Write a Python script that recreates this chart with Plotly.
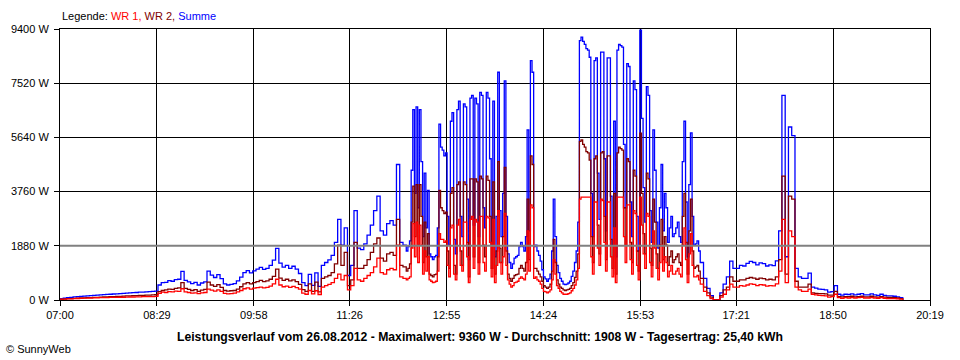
import plotly.graph_objects as go

# ---------------- data ----------------
x_tick_labels = ["07:00", "08:29", "09:58", "11:26", "12:55", "14:24", "15:53", "17:21", "18:50", "20:19"]
y_tick_values = [0, 1880, 3760, 5640, 7520, 9400]
y_tick_labels = ["0 W", "1880 W", "3760 W", "5640 W", "7520 W", "9400 W"]

# Samples: segment A 07:00-12:15 every 3 min, segment B 12:18-16:48 every 1.5 min,
# segment C 16:51-19:54 every 3 min (minutes after 07:00)
seg_a_start, seg_a_step = 0, 3
seg_b_start, seg_b_step = 318, 1.5
seg_c_start, seg_c_step = 591, 3

wr1_a = [
    30, 32, 40, 42, 50, 52, 58, 62, 66, 70, 72, 78, 80, 80, 85, 88, 88, 92, 96, 96,
    100, 104, 104, 108, 110, 114, 114, 118, 120, 124,
    230, 270, 260, 290, 280, 310, 300, 390, 280, 260, 240, 250, 220, 250, 260, 380, 340, 310, 350, 300,
    230, 210, 220, 240, 280, 330, 390, 420, 380, 410,
    430, 450, 420, 440, 480, 560, 720, 520, 460, 480, 440, 470, 430, 380, 240, 200, 330, 210, 320, 190,
    450, 500, 540, 600, 750, 900, 700, 850, 350,
    500, 1100, 700, 650, 750, 850, 950, 1150, 1450, 950, 900, 1050, 1100, 1050, 1900, 800, 750,
]
wr2_a = [
    20, 28, 45, 50, 58, 62, 70, 72, 80, 84, 90, 92, 100, 104, 108, 112, 120, 122, 128, 132,
    140, 142, 150, 152, 160, 162, 168, 172, 180, 182,
    290, 330, 350, 380, 370, 400, 420, 600, 400, 370, 330, 360, 300, 340, 370, 620, 520, 470, 530, 440,
    330, 310, 320, 330, 380, 460, 560, 600, 560, 600,
    640, 680, 640, 660, 720, 820, 1070, 760, 680, 720, 660, 700, 640, 540, 360, 300, 560, 300, 620, 280,
    750, 800, 850, 950, 1250, 1900, 1200, 1650, 500,
    700, 2000, 1100, 1100, 1200, 1400, 1650, 1950, 2150, 1450, 1350, 1600, 1650, 1550, 2800, 1200, 1150,
]

wr1_b = [
    700, 750, 800, 1800, 2650, 1500, 2700, 1300, 2600, 1900,
    900, 1700, 1000, 1500, 700, 650, 600, 620, 650, 1000,
    2300, 2100, 2100, 2000, 2050, 1200, 800, 2500, 2600, 900,
    700, 2600, 2800, 1200, 1000, 2700, 2700, 1500, 600, 2800,
    2900, 1100, 2800, 2700, 900, 2900, 2900, 1300, 1000, 2900,
    2850, 2000, 800, 2800, 600, 1200, 3100, 1300, 900, 1500,
    3000, 1200, 700, 550, 450, 500, 600, 620, 650, 750,
    800, 750, 700, 900, 2400, 1000, 3300, 3200, 750, 800,
    700, 650, 550, 400, 300, 280, 250, 280, 350, 700,
    1400, 900, 500, 400, 300, 250, 200, 200, 200, 220,
    250, 320, 400, 520, 700, 1100, 3500, 3570, 3570, 3570,
    3570, 3570, 3570, 1500, 900, 3400, 3400, 1800, 1200, 3500,
    3450, 2000, 1000, 3400, 3400, 1500, 800, 2500, 600, 3570,
    3570, 3570, 3570, 2200, 1300, 3300, 3300, 1400, 900, 3100,
    3000, 1200, 700, 3570, 2600, 1600, 1100, 3000, 2900, 1300,
    800, 2400, 1800, 1100, 700, 1300, 1900, 1000, 1500, 1300,
    800, 1000, 1200, 900, 900, 1000, 1100, 900, 800, 1900,
    2500, 1400, 600, 1600, 2300, 1200, 800, 800, 850, 700,
    550,
]
wr2_b = [
    1000, 1100, 1250, 2700, 3950, 2200, 4000, 1900, 4000, 2900,
    1300, 2700, 1500, 2300, 900, 850, 800, 880, 900, 1500,
    3800, 3200, 3100, 3000, 3050, 1700, 1100, 3700, 3900, 1200,
    900, 4000, 4100, 1700, 1200, 4100, 4000, 2000, 800, 4200,
    4200, 1500, 4200, 4100, 1300, 4300, 4200, 1900, 1500, 4300,
    4150, 2900, 1100, 4100, 900, 1700, 4800, 1800, 1300, 2200,
    4600, 1700, 900, 750, 650, 750, 850, 880, 900, 1100,
    1200, 1100, 1000, 1300, 3500, 1400, 5000, 4700, 1100, 1100,
    1000, 900, 800, 650, 500, 450, 400, 450, 550, 1000,
    2100, 1300, 700, 550, 450, 400, 350, 330, 350, 370,
    400, 500, 600, 780, 1000, 1600, 5500, 5550, 5400, 5300,
    5150, 5100, 4850, 2200, 1300, 4900, 5000, 2600, 1600, 5100,
    5150, 2900, 1400, 5000, 5000, 2100, 1100, 3700, 900, 5100,
    5300, 5250, 5200, 3200, 1900, 4900, 4800, 2000, 1300, 4500,
    4300, 1700, 1000, 5790, 3700, 2300, 1600, 4400, 4200, 1800,
    1200, 3500, 2700, 1600, 1100, 1900, 2800, 1400, 2200, 1900,
    1200, 1500, 1700, 1300, 1400, 1500, 1600, 1300, 1200, 2900,
    3700, 2000, 900, 2400, 3500, 1700, 1100, 1150, 1200, 1000,
    750,
]

wr1_c = [
    300, 150, 50, 0, 0, 100, 200, 350, 550, 450, 450, 500, 480, 520, 560, 540, 500, 530, 520, 480,
    500, 490, 560, 1000, 2800, 600, 2400, 2200, 450, 350, 300, 300, 380, 200, 180, 160, 150, 140, 100, 120,
    200, 80, 60, 80, 70, 80, 70, 80, 90, 70, 70, 80, 70, 60, 80, 60, 50, 50, 50, 40,
    30, 0,
]
wr2_c = [
    450, 250, 100, 0, 0, 150, 350, 450, 800, 650, 650, 700, 700, 750, 780, 760, 720, 760, 740, 700,
    720, 700, 800, 1400, 4300, 900, 3600, 3500, 650, 450, 450, 450, 550, 250, 230, 220, 220, 210, 170, 170,
    300, 120, 110, 120, 120, 130, 110, 120, 130, 110, 110, 130, 110, 100, 120, 100, 90, 90, 80, 70,
    50, 0,
]

minutes = ([seg_a_start + seg_a_step * i for i in range(len(wr1_a))]
           + [seg_b_start + seg_b_step * i for i in range(len(wr1_b))]
           + [seg_c_start + seg_c_step * i for i in range(len(wr1_c))])
wr1 = wr1_a + wr1_b + wr1_c
wr2 = wr2_a + wr2_b + wr2_c
# Summe is the total of both inverters
summe = [a + b for a, b in zip(wr1, wr2)]


def to_min(label):
    h, m = label.split(":")
    return (int(h) - 7) * 60 + int(m)


x_tick_vals = [to_min(t) for t in x_tick_labels]

FONT = "Liberation Sans, Arial, sans-serif"
LW = 1.3

fig = go.Figure()
fig.add_trace(go.Scatter(x=minutes, y=summe, mode="lines", line=dict(color="#0000FF", width=LW, shape="hv"),
                         name="Summe", hoverinfo="skip"))
fig.add_trace(go.Scatter(x=minutes, y=wr2, mode="lines", line=dict(color="#800000", width=LW, shape="hv"),
                         name="WR 2", hoverinfo="skip"))
fig.add_trace(go.Scatter(x=minutes, y=wr1, mode="lines", line=dict(color="#FF0000", width=LW, shape="hv"),
                         name="WR 1", hoverinfo="skip"))

fig.add_shape(type="line", xref="paper", x0=0, x1=1, yref="y", y0=1880, y1=1880,
              line=dict(color="#808080", width=2), layer="above")

fig.update_layout(
    width=960, height=360, autosize=False,
    margin=dict(l=60, r=30, t=29, b=60, pad=0),
    paper_bgcolor="white", plot_bgcolor="white",
    showlegend=False,
    font=dict(family=FONT, size=11, color="black"),
    xaxis=dict(
        range=[0, x_tick_vals[-1]], tickmode="array", tickvals=x_tick_vals, ticktext=x_tick_labels,
        showgrid=True, gridcolor="black", gridwidth=1, zeroline=False,
        showline=True, linecolor="black", linewidth=1, mirror=True,
        ticks="outside", ticklen=5, tickcolor="black", tickfont=dict(size=11, family=FONT),
    ),
    yaxis=dict(
        range=[0, 9400], tickmode="array", tickvals=y_tick_values, ticktext=y_tick_labels,
        showgrid=True, gridcolor="black", gridwidth=1, zeroline=False,
        showline=True, linecolor="black", linewidth=1, mirror=True,
        ticks="outside", ticklen=5, tickcolor="black", tickfont=dict(size=11, family=FONT),
        ticklabelstandoff=3,
    ),
    annotations=[
        dict(xref="paper", yref="paper", x=0.0, y=(300 - 16) / 271, xanchor="left", yanchor="middle",
             showarrow=False, font=dict(size=11, family=FONT),
             text="Legende: <span style='color:#FF0000'>WR 1,</span> <span style='color:#800000'>WR 2,</span> "
                  "<span style='color:#0000FF'>Summe</span>"),
        dict(xref="paper", yref="paper", x=(480 - 60) / 870, y=(300 - 337) / 271, xanchor="center", yanchor="middle",
             showarrow=False, font=dict(size=12.2, family=FONT),
             text="<b>Leistungsverlauf vom 26.08.2012 - Maximalwert: 9360 W - Durchschnitt: 1908 W - "
                  "Tagesertrag: 25,40 kWh</b>"),
        dict(xref="paper", yref="paper", x=(4 - 60) / 870, y=(300 - 349) / 271, xanchor="left", yanchor="middle",
             showarrow=False, font=dict(size=11, family=FONT), text="© SunnyWeb"),
    ],
)

fig.write_html("out.html", config={"displayModeBar": False},
               post_script="document.body.style.margin='0px';")
